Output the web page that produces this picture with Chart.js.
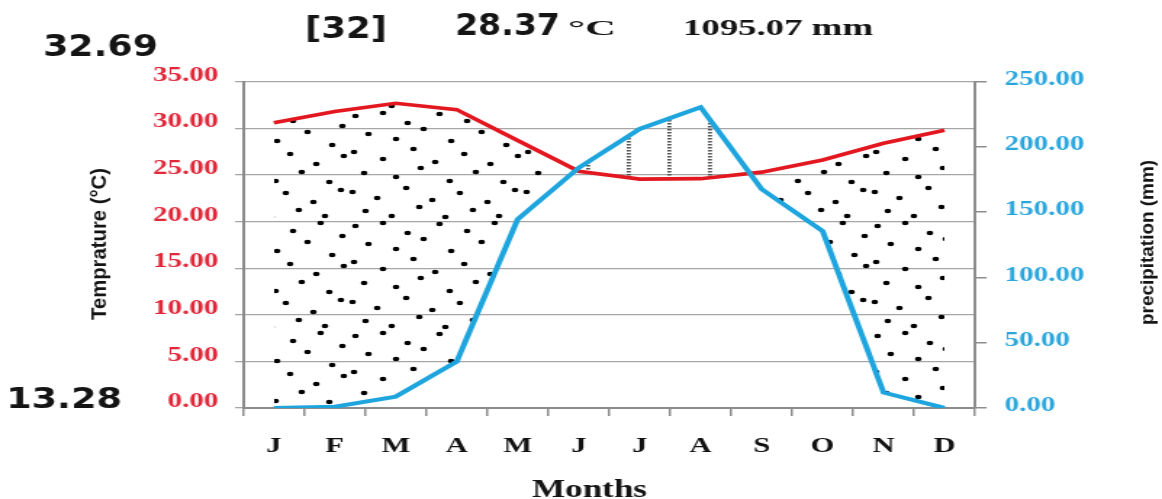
<!DOCTYPE html>
<html>
<head>
<meta charset="utf-8">
<script src="https://cdn.jsdelivr.net/npm/chart.js@4"></script>
<style>
  html, body { margin: 0; padding: 0; background: #fff; }
  canvas { display: block; }
</style>
</head>
<body>
<!-- drawn at 801 px wide and shown at 1162 px, giving the wide, stretched look of the diagram -->
<canvas id="climate" width="801" height="499" style="width:1162px;height:499px"></canvas>
<script>
// ---- data ----
const months = ['J', 'F', 'M', 'A', 'M', 'J', 'J', 'A', 'S', 'O', 'N', 'D'];
const temperature = [30.6, 31.8, 32.69, 32.0, 28.7, 25.4, 24.55, 24.6, 25.3, 26.6, 28.4, 29.8];   // °C
const precipitation = [0, 1, 8.7, 35.6, 144.6, 184, 213.8, 230.5, 167.7, 135.6, 11.8, 0];        // mm
const tempRange = [0, 35];
const tempStep = 5;
const precipRange = [0, 250];
const precipStep = 50;
const stationLabel = '[32]';
const meanTemperature = '28.37';
const totalPrecipitation = '1095.07 mm';
const maxTemperature = '32.69';
const minTemperature = '13.28';

// ---- drawing helpers ----
const SX = 1162 / 801;              // horizontal display stretch of the canvas
const X = px => px / SX;            // page x -> canvas x

// dry season stipple: fixed, irregular dot layout inside one 120x110 tile
const dotLayout = [
  [5, 6], [24, 3], [41, 13], [63, 4], [82, 11], [101, 3], [116, 16],
  [14, 24], [33, 29], [52, 19], [71, 31], [92, 22], [109, 35],
  [4, 42], [24, 49], [45, 39], [60, 52], [80, 44], [98, 54], [117, 46],
  [11, 63], [33, 67], [50, 58], [70, 71], [88, 62], [107, 72],
  [3, 82], [20, 88], [40, 78], [58, 90], [77, 83], [96, 92], [115, 80],
  [12, 101], [30, 106], [49, 97], [67, 107], [86, 100], [104, 106]
];
function dotPattern() {
  const c = document.createElement('canvas');
  c.width = 120; c.height = 110;
  const g = c.getContext('2d');
  g.fillStyle = '#000';
  dotLayout.forEach(([x, y]) => { g.beginPath(); g.arc(x, y, 2.3, 0, Math.PI * 2); g.fill(); });
  return g.createPattern(c, 'repeat');
}
// humid season: thin vertical dashed hatching
function hatchPattern() {
  const c = document.createElement('canvas');
  c.width = 28; c.height = 3;
  const g = c.getContext('2d');
  g.fillStyle = '#555';
  g.fillRect(12, 0, 2.8, 1.5);
  return g.createPattern(c, 'repeat');
}

function fitText(ctx, text, font, left, width, baseline, color) {
  ctx.save();
  ctx.font = font; ctx.fillStyle = color;
  ctx.textAlign = 'left'; ctx.textBaseline = 'alphabetic';
  const w = ctx.measureText(text).width;
  ctx.translate(X(left), baseline);
  ctx.scale(X(width) / w, 1);
  ctx.fillText(text, 0, 0);
  ctx.restore();
}
function fitVertical(ctx, text, font, baselineX, centerY, length, color) {
  ctx.save();
  ctx.font = font; ctx.fillStyle = color;
  ctx.textAlign = 'center'; ctx.textBaseline = 'alphabetic';
  const w = ctx.measureText(text).width;
  ctx.translate(X(baselineX), centerY);
  ctx.rotate(-Math.PI / 2);
  ctx.scale(length / w, 1);
  ctx.fillText(text, 0, 0);
  ctx.restore();
}

const SANS = '"DejaVu Sans", "Liberation Sans", sans-serif';
const SERIF = '"Liberation Serif", "DejaVu Serif", serif';

const headerText = {
  id: 'headerText',
  afterDraw(chart) {
    const ctx = chart.ctx;
    const ink = '#141414';
    fitText(ctx, maxTemperature, `bold 30px ${SANS}`, 43, 115, 56, ink);
    fitText(ctx, minTemperature, `bold 28px ${SANS}`, 6, 116, 408, ink);
    fitText(ctx, stationLabel, `bold 30px ${SANS}`, 305, 82, 37.5, ink);
    fitText(ctx, meanTemperature, `bold 30px ${SANS}`, 455, 105, 35, ink);
    fitText(ctx, '°C', `bold 22px ${SERIF}`, 568, 48, 35, ink);
    fitText(ctx, totalPrecipitation, `bold 23px ${SERIF}`, 683, 190, 35, ink);
    fitText(ctx, 'Months', `bold 25px ${SERIF}`, 532, 115, 496.5, ink);
    fitVertical(ctx, 'Temprature (°C)', `bold 14px "Liberation Sans", sans-serif`, 106, 244, 152, ink);
    fitVertical(ctx, 'precipitation (mm)', `bold 13.5px "Liberation Sans", sans-serif`, 1154, 242.5, 165, ink);
  }
};

const axisGrey = '#8c8c8c';
const gridGrey = '#a6a6a6';
const plotLeft = X(243.3), plotRight = X(975);

new Chart(document.getElementById('climate'), {
  type: 'line',
  data: {
    labels: months,
    datasets: [
      {
        label: 'Temperature',
        data: temperature,
        yAxisID: 'y',
        borderColor: '#e3171f',
        borderWidth: 3.6,
        pointRadius: 0,
        tension: 0,
        order: 1,
        fill: { target: 1, above: dotPattern(), below: hatchPattern() }
      },
      {
        label: 'Precipitation',
        data: precipitation,
        yAxisID: 'y1',
        borderColor: '#1ea5de',
        borderWidth: 4,
        pointRadius: 0,
        tension: 0,
        order: 0,
        fill: false
      }
    ]
  },
  options: {
    responsive: false,
    animation: false,
    devicePixelRatio: 1,
    layout: { padding: { top: 81.7, left: 0, right: 0, bottom: 0 } },
    plugins: { legend: { display: false }, tooltip: { enabled: false } },
    scales: {
      x: {
        offset: true,
        grid: { offset: true, drawOnChartArea: false, tickLength: 8, color: axisGrey, lineWidth: 1.5 },
        border: { color: axisGrey, width: 2 },
        ticks: {
          color: '#111', padding: 18, maxRotation: 0, autoSkip: false,
          font: { family: SERIF, size: 21, weight: 'bold', lineHeight: 1.2 }
        },
        afterFit(s) { s.height = 91; }
      },
      y: {
        position: 'left',
        min: tempRange[0], max: tempRange[1],
        ticks: {
          stepSize: tempStep, color: '#e0283a', padding: 11.5, labelOffset: -6,
          font: { family: SERIF, size: 20, weight: 'bold' },
          callback: v => Number(v).toFixed(2)
        },
        grid: { color: gridGrey, lineWidth: 1.3, tickLength: 5.7, tickColor: gridGrey },
        border: { color: axisGrey, width: 2 },
        afterFit(s) { s.width = plotLeft; }
      },
      y1: {
        position: 'right',
        min: precipRange[0], max: precipRange[1],
        ticks: {
          stepSize: precipStep, color: '#2aa6dd', padding: 12.5, labelOffset: -2,
          font: { family: SERIF, size: 20, weight: 'bold' },
          callback: v => Number(v).toFixed(2)
        },
        grid: { drawOnChartArea: false, tickLength: 8, color: axisGrey, lineWidth: 1.5 },
        border: { color: axisGrey, width: 2 },
        afterFit(s) { s.width = 801 - plotRight; }
      }
    }
  },
  plugins: [headerText]
});
</script>
</body>
</html>
